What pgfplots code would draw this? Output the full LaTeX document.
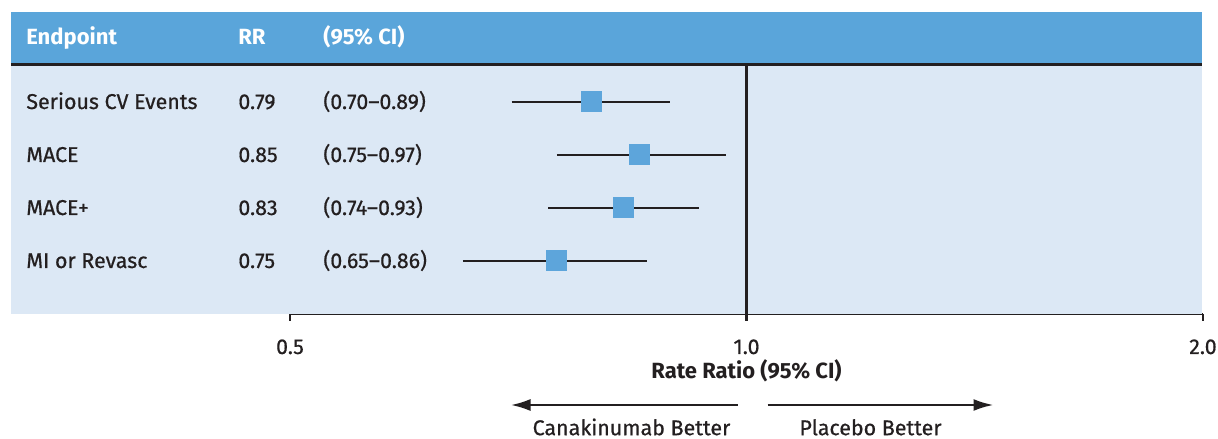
\documentclass[border=0pt]{standalone}
\usepackage{fontspec}
\setmainfont{Fira Sans}
\newfontfamily\bodyfont{Fira Sans}[FakeBold=0.6, Ligatures=TeX]
\usepackage{pgfplots}
\pgfplotsset{compat=1.18}
\usetikzlibrary{arrows.meta}

\definecolor{headblue}{HTML}{5AA5DA}
\definecolor{panelblue}{HTML}{DCE8F5}
\definecolor{sqblue}{HTML}{5DA5DB}
\definecolor{ink}{HTML}{231F20}

\tikzset{
  cell/.style={anchor=base west, inner sep=0},
  headcell/.style={anchor=base west, inner sep=0, text=white, font=\fontsize{11}{13}\selectfont\bfseries},
}

\begin{document}
\begin{tikzpicture}[font=\fontsize{10.7}{13}\selectfont\bodyfont, text=ink]
\begin{axis}[
  scale only axis,
  width=456.5pt, height=151pt,
  xmode=log, log basis x=2,
  xmin=0.5, xmax=2, ymin=0, ymax=5.698,
  axis y line=none,
  axis x line*=bottom,
  axis line style={ink, line width=1.2pt, -},
  xtick={0.5,1,2},
  xticklabels={0.5,1.0,2.0},
  minor xtick={},
  tick align=outside,
  major tick length=3.5pt,
  tick style={ink, line width=1.2pt},
  xticklabel style={anchor=base, yshift=-16.5pt, font=\fontsize{10.7}{13}\selectfont\bodyfont},
  clip=false,
]
  \coordinate (sw) at (rel axis cs:0,0);
  \coordinate (ne) at (rel axis cs:1,1);

  % table background and header band
  \fill[panelblue] ([xshift=-139.5pt]axis cs:0.5,0) rectangle ([xshift=-0.5pt]axis cs:2,4.713);
  \fill[headblue] ([xshift=-139.5pt]axis cs:0.5,4.713) rectangle ([xshift=-0.5pt]axis cs:2,5.698);
  \draw[ink, line width=1.3pt] ([xshift=-139.5pt]axis cs:0.5,4.713) -- ([xshift=-0.5pt]axis cs:2,4.713);

  % line of no effect
  \draw[ink, line width=1.3pt] (axis cs:1,4.713) -- (axis cs:1,0);

  % header text
  \node[headcell] at ([xshift=-132pt]axis cs:0.5,5.089) {Endpoint};
  \node[headcell] at ([xshift=-26pt]axis cs:0.5,5.089) {RR};
  \node[headcell] at ([xshift=16.5pt]axis cs:0.5,5.089) {(95\% CI)};

  % row text
  \node[cell] at ([xshift=-132pt, yshift=-3.5pt]axis cs:0.5,4) {Serious CV Events};
  \node[cell] at ([xshift=-26pt, yshift=-3.5pt]axis cs:0.5,4) {0.79};
  \node[cell] at ([xshift=16.5pt, yshift=-3.5pt]axis cs:0.5,4) {(0.70–0.89)};

  \node[cell] at ([xshift=-132pt, yshift=-3.5pt]axis cs:0.5,3) {MACE};
  \node[cell] at ([xshift=-26pt, yshift=-3.5pt]axis cs:0.5,3) {0.85};
  \node[cell] at ([xshift=16.5pt, yshift=-3.5pt]axis cs:0.5,3) {(0.75–0.97)};

  \node[cell] at ([xshift=-132pt, yshift=-3.5pt]axis cs:0.5,2) {MACE+};
  \node[cell] at ([xshift=-26pt, yshift=-3.5pt]axis cs:0.5,2) {0.83};
  \node[cell] at ([xshift=16.5pt, yshift=-3.5pt]axis cs:0.5,2) {(0.74–0.93)};

  \node[cell] at ([xshift=-132pt, yshift=-3.5pt]axis cs:0.5,1) {MI or Revasc};
  \node[cell] at ([xshift=-26pt, yshift=-3.5pt]axis cs:0.5,1) {0.75};
  \node[cell] at ([xshift=16.5pt, yshift=-3.5pt]axis cs:0.5,1) {(0.65–0.86)};

  % confidence intervals
  \addplot[ink, line width=1.3pt] coordinates {(0.70,4) (0.89,4)};
  \addplot[ink, line width=1.3pt] coordinates {(0.75,3) (0.97,3)};
  \addplot[ink, line width=1.3pt] coordinates {(0.74,2) (0.93,2)};
  \addplot[ink, line width=1.3pt] coordinates {(0.65,1) (0.86,1)};

  % point estimates
  \addplot[only marks, draw=sqblue, mark=square*, mark size=5pt,
           mark options={fill=sqblue, draw=sqblue, line width=0pt}]
    coordinates {(0.79,4) (0.85,3) (0.83,2) (0.75,1)};

  % axis title and direction arrows
  \node[anchor=base, inner sep=0, font=\fontsize{11}{13}\selectfont\bfseries] at ([yshift=-32.5pt]axis cs:1,0) {Rate Ratio (95\% CI)};
  \draw[ink, line width=1.3pt, -{Latex[length=10pt, width=6pt]}] ([xshift=-4.5pt, yshift=-45.5pt]axis cs:1,0) -- ([xshift=-118pt, yshift=-45.5pt]axis cs:1,0);
  \draw[ink, line width=1.3pt, -{Latex[length=10pt, width=6pt]}] ([xshift=10.5pt, yshift=-45.5pt]axis cs:1,0) -- ([xshift=123.5pt, yshift=-45.5pt]axis cs:1,0);
  \node[anchor=base, inner sep=0] at ([xshift=-57.5pt, yshift=-60.6pt]axis cs:1,0) {Canakinumab Better};
  \node[anchor=base, inner sep=0] at ([xshift=62pt, yshift=-60.6pt]axis cs:1,0) {Placebo Better};
\end{axis}
\pgfresetboundingbox
\useasboundingbox ([xshift=-145pt, yshift=-62.5pt]sw) rectangle ([xshift=7.5pt, yshift=6pt]ne);
\end{tikzpicture}
\end{document}
